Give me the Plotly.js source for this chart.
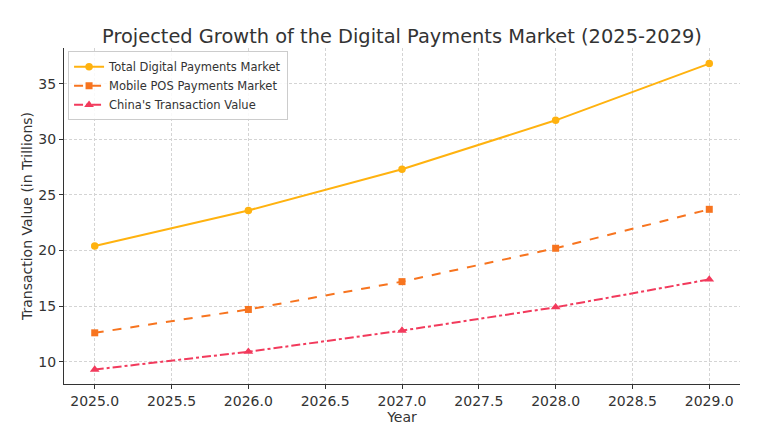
<!DOCTYPE html>
<html><head><meta charset="utf-8">
<script src="https://cdn.plot.ly/plotly-3.0.1.min.js"></script>
<style>body{margin:0;background:#fff}#c{width:763px;height:433px}</style>
</head><body><div id="c"></div>
<script>
const years = [2025, 2026, 2027, 2028, 2029];
const totalDigital = [20.4, 23.6, 27.3, 31.7, 36.8];
const mobilePOS = [12.6, 14.7, 17.2, 20.2, 23.7];
const chinaValue = [9.3, 10.9, 12.8, 14.9, 17.4];
const seriesNames = ["Total Digital Payments Market", "Mobile POS Payments Market", "China's Transaction Value"];
const xTicks = [2025, 2025.5, 2026, 2026.5, 2027, 2027.5, 2028, 2028.5, 2029];
const yTicks = [10, 15, 20, 25, 30, 35];

const font = "DejaVu Sans, sans-serif";
const traces = [
  {x: years, y: totalDigital, name: seriesNames[0], mode: "lines+markers",
   line: {color: "#FFB20F", width: 2, dash: "solid"}, marker: {symbol: "circle", size: 7.5, color: "#FFB20F"}},
  {x: years, y: mobilePOS, name: seriesNames[1], mode: "lines+markers",
   line: {color: "#F7741F", width: 2, dash: "dash"}, marker: {symbol: "square", size: 7, color: "#F7741F"}},
  {x: years, y: chinaValue, name: seriesNames[2], mode: "lines+markers",
   line: {color: "#F23A5C", width: 2, dash: "dashdot"}, marker: {symbol: "triangle-up", size: 8.5, color: "#F23A5C"}}
];
const layout = {
  width: 763, height: 433,
  margin: {l: 64, r: 23, t: 48, b: 49},
  paper_bgcolor: "#fff", plot_bgcolor: "#fff",
  font: {family: font, color: "#333", size: 14},
  title: {text: "Projected Growth of the Digital Payments Market (2025-2029)", font: {size: 19.4, family: font, color: "#333"}, xref: "paper", x: 0.5, xanchor: "center", y: 0.933, yanchor: "top"},
  xaxis: {range: [2024.8, 2029.2], tickvals: xTicks, ticktext: xTicks.map(v => v.toFixed(1)),
    showgrid: true, gridcolor: "#d4d4d4", griddash: "3px,2px", gridwidth: 1,
    showline: true, linecolor: "#333", linewidth: 1, ticks: "outside", ticklen: 4, tickcolor: "#333",
    zeroline: false, tickfont: {size: 14},
    title: {text: "Year", font: {size: 14}, standoff: 1}},
  yaxis: {range: [8.0, 38.2], tickvals: yTicks,
    showgrid: true, gridcolor: "#d4d4d4", griddash: "3px,2px", gridwidth: 1,
    showline: true, linecolor: "#333", linewidth: 1, ticks: "outside", ticklen: 4, tickcolor: "#333",
    zeroline: false, tickfont: {size: 14},
    title: {text: "Transaction Value (in Trillions)", font: {size: 14}, standoff: 2}},
  legend: {x: 0.006, y: 0.99, xanchor: "left", yanchor: "top", bgcolor: "rgba(255,255,255,0.85)",
    bordercolor: "#ccc", borderwidth: 1, font: {size: 11.5}, tracegroupgap: 0, itemwidth: 30},
  showlegend: true
};
Plotly.newPlot("c", traces, layout, {displayModeBar: false, staticPlot: true});
</script></body></html>
